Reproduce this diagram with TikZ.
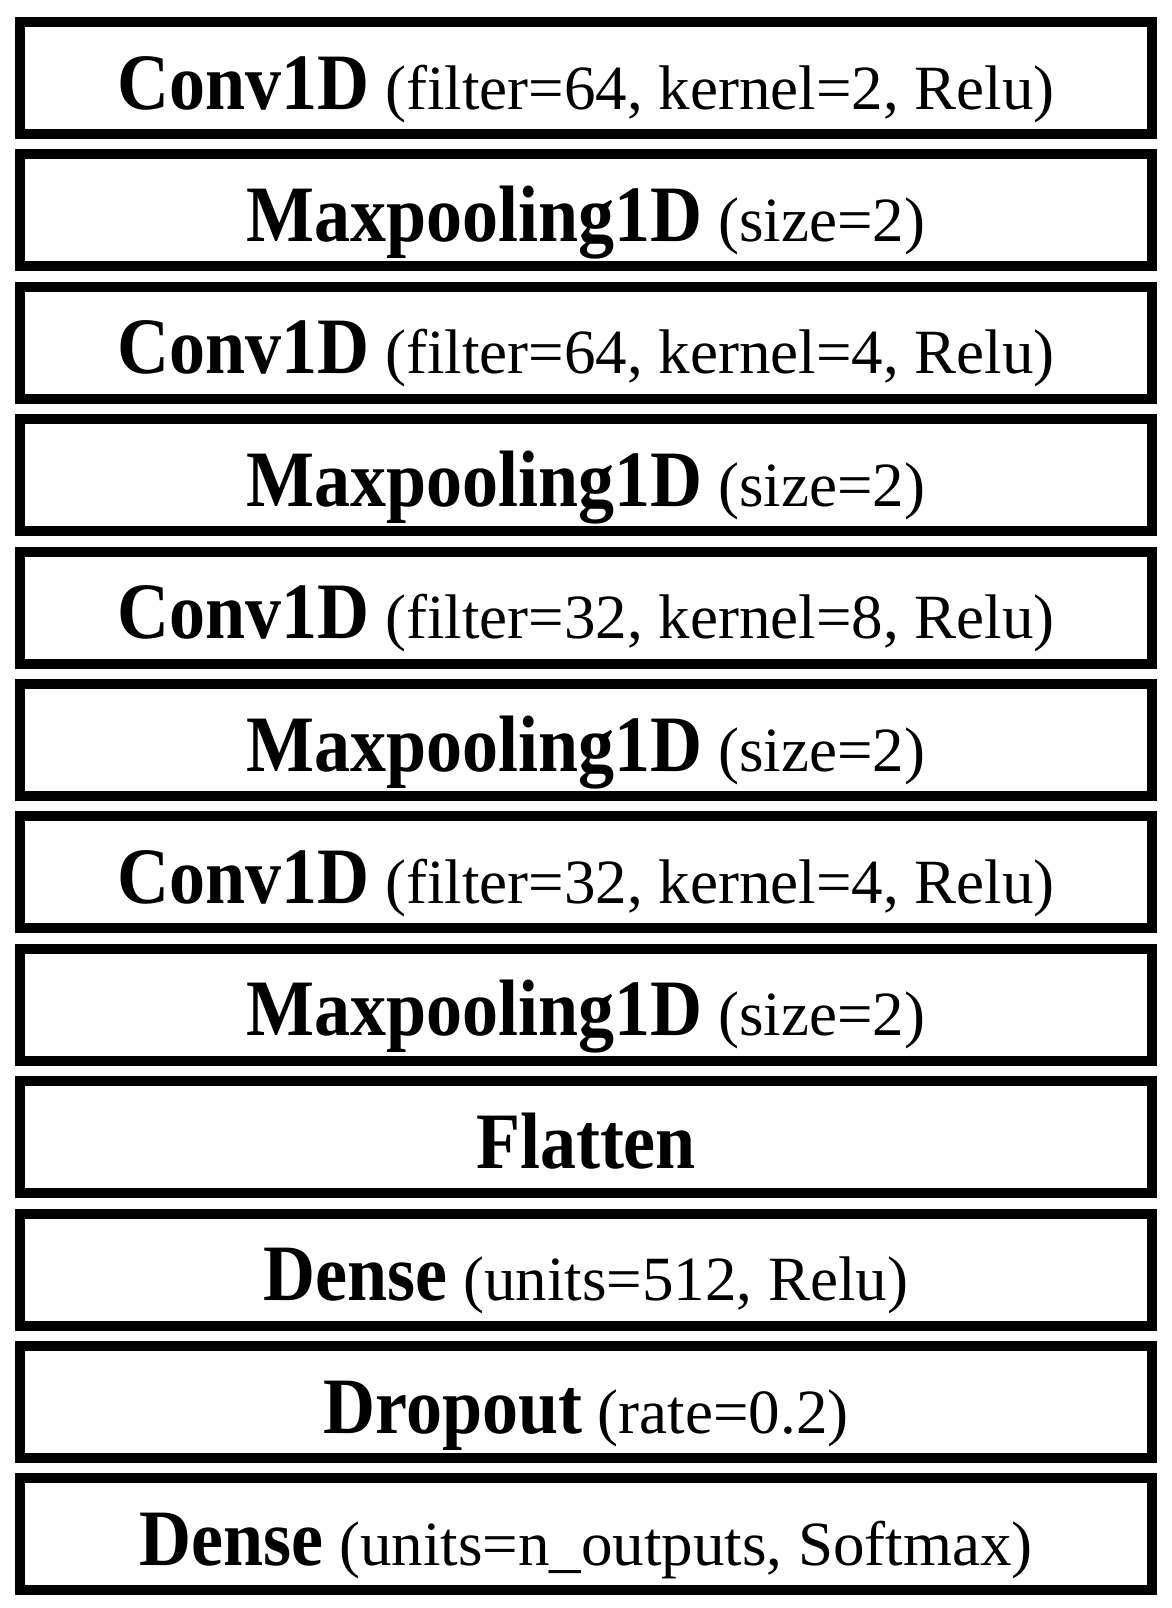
\documentclass[tikz,border=0pt]{standalone}
\usepackage{fontspec}
\setmainfont{Liberation Serif}
\newfontfamily\namefont{Liberation Serif}[FakeStretch=0.9]
\usetikzlibrary{positioning}

\newcommand{\lname}[1]{{\fontsize{40}{44}\namefont\bfseries #1}}

\begin{document}
\begin{tikzpicture}[node distance=5.2pt,
                    layer/.style={rectangle,draw,line width=5pt,minimum width=566pt,
                                  minimum height=56pt,inner sep=0pt,text height=36pt,text depth=5pt,
                                  font=\fontsize{31.5}{36}\selectfont}]
\useasboundingbox (0,0) rectangle (586pt,-804pt);
\node[layer] (conv1) at (293pt,-39pt) {\lname{Conv1D} (filter=64, kernel=2, Relu)};
\node[layer] (pool1) [below=of conv1] {\lname{Maxpooling1D} (size=2)};
\node[layer] (conv2) [below=of pool1] {\lname{Conv1D} (filter=64, kernel=4, Relu)};
\node[layer] (pool2) [below=of conv2] {\lname{Maxpooling1D} (size=2)};
\node[layer] (conv3) [below=of pool2] {\lname{Conv1D} (filter=32, kernel=8, Relu)};
\node[layer] (pool3) [below=of conv3] {\lname{Maxpooling1D} (size=2)};
\node[layer] (conv4) [below=of pool3] {\lname{Conv1D} (filter=32, kernel=4, Relu)};
\node[layer] (pool4) [below=of conv4] {\lname{Maxpooling1D} (size=2)};
\node[layer] (flat) [below=of pool4] {\lname{Flatten}};
\node[layer] (dense1) [below=of flat] {\lname{Dense} (units=512, Relu)};
\node[layer] (drop) [below=of dense1] {\lname{Dropout} (rate=0.2)};
\node[layer] (dense2) [below=of drop] {\lname{Dense} (units=n\_outputs, Softmax)};
\end{tikzpicture}
\end{document}
